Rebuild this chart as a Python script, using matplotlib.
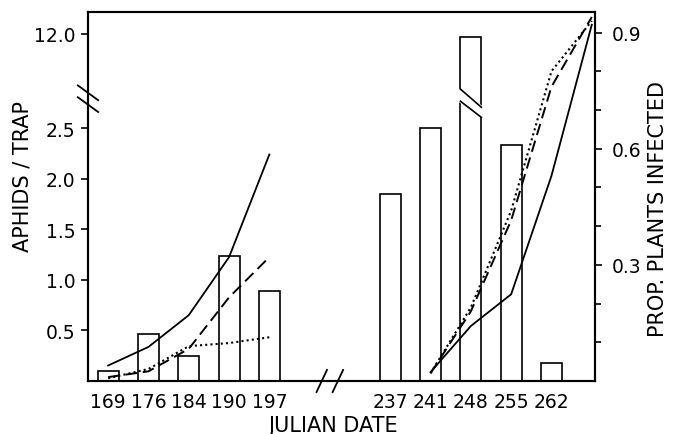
import matplotlib
matplotlib.use("Agg")
import matplotlib.pyplot as plt
from matplotlib.ticker import FixedLocator

# bars: aphids per trap at each julian date
early_dates = [169, 176, 184, 190, 197]
late_dates = [237, 241, 248, 255, 262]
aphids = [0.1, 0.47, 0.25, 1.24, 0.89, 1.85, 2.5, 11.9, 2.34, 0.18]

# lines: proportion of plants infected
line_early_dates = [169, 176, 184, 190, 197]
line_late_dates = [241, 248, 255, 262, 269]
solid_early = [0.04, 0.088, 0.17, 0.32, 0.585]
dashed_early = [0.01, 0.025, 0.083, 0.216, 0.32]
dotted_early = [0.007, 0.031, 0.09, 0.098, 0.113]
solid_late = [0.023, 0.142, 0.224, 0.53, 0.92]
dashed_late = [0.02, 0.18, 0.415, 0.76, 0.94]
dotted_late = [0.02, 0.19, 0.44, 0.80, 0.93]

left_ticks = [0.5, 1.0, 1.5, 2.0, 2.5, 12.0]
right_ticks = [0.3, 0.6, 0.9]
right_minor = [0.1, 0.2, 0.4, 0.5, 0.7, 0.8]

# x slots: two groups with a gap for the axis break
slot = {d: i for i, d in enumerate(early_dates)}
slot.update({d: 7 + i for i, d in enumerate(late_dates + [269])})

# broken y scale for the aphid axis
BREAK = 2.78
def yb(v):
    return v if v <= 2.75 else 3.436 + (v - 12.0) * 0.3

plt.rcParams['font.family'] = ['DejaVu Sans']
fig = plt.figure(figsize=(6.76, 4.35), dpi=100)
ax1 = fig.add_axes([88 / 676, 1 - 382 / 435, 507 / 676, 369 / 435])
ax2 = ax1.twinx()

dates = early_dates + late_dates
xpos = [slot[d] for d in dates]
width = 0.52
ax1.bar(xpos, [yb(v) for v in aphids], width=width, color='white',
        edgecolor='black', linewidth=1.2, zorder=2)

# gap in the tall bar
big = aphids.index(max(aphids))
bx = xpos[big]
l, r = bx - width / 2 - 0.04, bx + width / 2 + 0.04
lo = (BREAK - 0.01, BREAK - 0.17)
hi = (BREAK + 0.11, BREAK - 0.07)
ax1.fill([l, r, r, l], [lo[0], lo[1], hi[1], hi[0]], color='white', zorder=3)
ax1.plot([bx - width / 2, bx + width / 2], [lo[0], lo[1]], color='black', lw=1.2, zorder=4)
ax1.plot([bx - width / 2, bx + width / 2], [hi[0], hi[1]], color='black', lw=1.2, zorder=4)

ax1.set_xlim(-0.5, 12.08)
ax1.set_ylim(0, 3.653)
ax1.set_yticks([yb(v) for v in left_ticks])
ax1.set_yticklabels([f'{v:.1f}' for v in left_ticks])
ax1.set_xticks(xpos)
ax1.set_xticklabels([str(d) for d in dates])
ax1.tick_params(axis='x', length=0, pad=8, labelsize=13.5)
ax1.tick_params(axis='y', length=5, width=1.2, pad=4, labelsize=13.5)

ax2.set_ylim(0, 0.953)
ax2.yaxis.set_major_locator(FixedLocator(right_ticks))
ax2.yaxis.set_minor_locator(FixedLocator(right_minor))
ax2.set_yticklabels([f'{v:.1f}' for v in right_ticks])
ax2.tick_params(axis='y', which='major', length=5, width=1.2, pad=7, labelsize=13.5)
ax2.tick_params(axis='y', which='minor', length=4, width=1.2)

xe = [slot[d] for d in line_early_dates]
xl = [slot[d] for d in line_late_dates]
for ys_e, ys_l, ls, lw in [(solid_early, solid_late, '-', 1.3),
                            (dashed_early, dashed_late, (0, (6, 3)), 1.4),
                            (dotted_early, dotted_late, (0, (1, 1.5)), 1.5)]:
    ax2.plot(xe, ys_e, color='black', lw=lw, linestyle=ls)
    ax2.plot(xl, ys_l, color='black', lw=lw, linestyle=ls)

for a in (ax1, ax2):
    for s in a.spines.values():
        s.set_linewidth(1.5)

# break marks on the left spine and the bottom spine
yb0 = BREAK / 3.653
for dy in (0.0, -0.032):
    ax1.plot([-0.02, 0.02], [yb0 + 0.04 + dy, yb0 + dy], transform=ax1.transAxes,
             color='black', lw=1.3, clip_on=False)
for dx in (-0.2, 0.2):
    ax1.plot([5.5 + dx - 0.13, 5.5 + dx + 0.13], [-0.03, 0.03],
             transform=ax1.get_xaxis_transform(), color='black', lw=1.3, clip_on=False)

ax1.set_ylabel('APHIDS / TRAP', fontsize=15)
ax1.yaxis.set_label_coords(-0.11, 0.558)
ax2.set_ylabel('PROP. PLANTS INFECTED', fontsize=15)
ax2.yaxis.set_label_coords(1.105, 0.469)
ax1.set_xlabel('JULIAN DATE', fontsize=15)
ax1.xaxis.set_label_coords((333 - 88) / 507, -0.092)

fig.savefig('out.png', dpi=100)
